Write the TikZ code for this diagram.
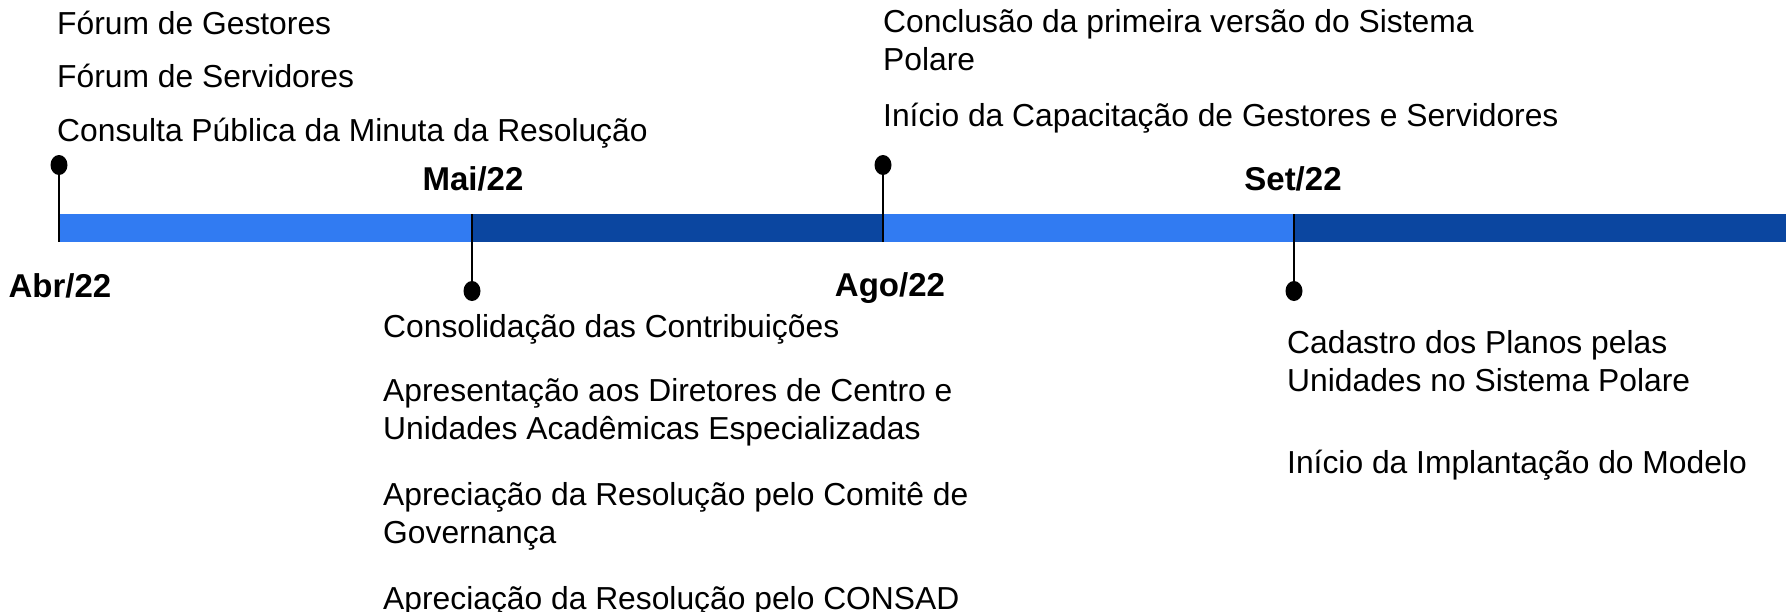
\documentclass[tikz,border=0pt]{standalone}
\usepackage{fontspec}
\setmainfont{Liberation Sans}
\definecolor{lightbar}{HTML}{317BF2}
\definecolor{darkbar}{HTML}{0B46A0}
\begin{document}
\begin{tikzpicture}[x=1pt,y=-1pt,
  evtext/.style={anchor=base west,inner sep=0pt,align=left,font=\fontsize{31.8}{38}\selectfont},
  datelbl/.style={anchor=base,inner sep=0pt,font=\fontsize{33}{36}\selectfont\bfseries},
  stem/.style={line width=2pt,black}]
\useasboundingbox (0,0) rectangle (1792,611);
% bar segments
\fill[lightbar] (59,214) rectangle (472,242);
\fill[darkbar] (472,214) rectangle (883,242);
\fill[lightbar] (883,214) rectangle (1294,242);
\fill[darkbar] (1294,214) rectangle (1786,242);
% pins
\coordinate (abrbar) at (59,242);
\coordinate (maibar) at (472,214);
\coordinate (agobar) at (883,242);
\coordinate (setbar) at (1294,214);
\fill (59,165) ellipse [x radius=8.5, y radius=10];
\fill (472,291) ellipse [x radius=8.5, y radius=10];
\fill (883,165) ellipse [x radius=8.5, y radius=10];
\fill (1294,291) ellipse [x radius=8.5, y radius=10];
\coordinate (abrdot) at (59,165);
\coordinate (maidot) at (472,291);
\coordinate (agodot) at (883,165);
\coordinate (setdot) at (1294,291);
\draw[stem] (abrdot) -- (abrbar);
\draw[stem] (maibar) -- (maidot);
\draw[stem] (agodot) -- (agobar);
\draw[stem] (setbar) -- (setdot);
% date labels
\node[datelbl] (abr) at (60,297) {Abr/22};
\node[datelbl] (mai) at (473,190) {Mai/22};
\node[datelbl] (ago) at (890,296) {Ago/22};
\node[datelbl] (set) at (1293,190) {Set/22};
% top left
\node[evtext] (t1) at (57,34) {Fórum de Gestores};
\node[evtext] (t2) at (57,87) {Fórum de Servidores};
\node[evtext] (t3) at (57,141) {Consulta Pública da Minuta da Resolução};
% top Ago (base = last line)
\node[evtext] (g1) at (883,70) {Conclusão da primeira versão do Sistema\\Polare};
\node[evtext] (g2) at (883,126) {Início da Capacitação de Gestores e Servidores};
% Mai bottom
\node[evtext] (m1) at (383,337) {Consolidação das Contribuições};
\node[evtext] (m2) at (383,439) {Apresentação aos Diretores de Centro e\\Unidades Acadêmicas Especializadas};
\node[evtext] (m3) at (383,543) {Apreciação da Resolução pelo Comitê de\\Governança};
\node[evtext] (m4) at (383,609) {Apreciação da Resolução pelo CONSAD};
% Set bottom
\node[evtext] (s1) at (1287,391) {Cadastro dos Planos pelas\\Unidades no Sistema Polare};
\node[evtext] (s2) at (1287,473) {Início da Implantação do Modelo};
\end{tikzpicture}
\end{document}
